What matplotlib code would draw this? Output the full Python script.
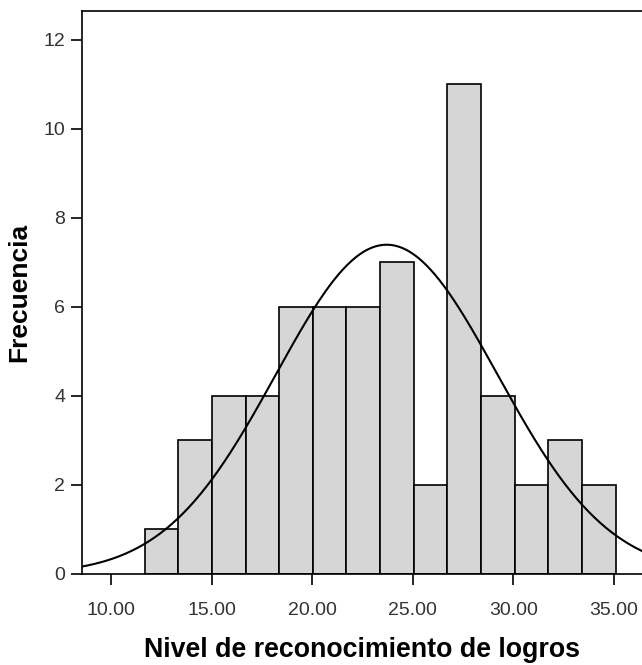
import numpy as np
import matplotlib
matplotlib.use("Agg")
import matplotlib.pyplot as plt

# histogram
bin_edges = np.linspace(11.67, 35.08, 15)
counts = [1, 3, 4, 4, 6, 6, 6, 7, 2, 11, 4, 2, 3, 2]
mean_est = 23.7
sd_est = 5.5
xticks = [10, 15, 20, 25, 30, 35]
yticks = [0, 2, 4, 6, 8, 10, 12]

plt.rcParams['font.family'] = ['Liberation Sans', 'DejaVu Sans']

fig = plt.figure(figsize=(6.42, 6.65), dpi=100)
# axes box: left edge at 82px, bottom axis at 574px, top at 11px, runs off the right side
ax = fig.add_axes([82 / 642, 1 - 574 / 665, 1 - 82 / 642, (574 - 11) / 665])

widths = np.diff(bin_edges)
ax.bar(bin_edges[:-1], counts, width=widths, align='edge',
       color='#d6d6d6', edgecolor='black', linewidth=1.2, zorder=2)

# normal curve scaled to counts
n = sum(counts)
xs = np.linspace(8.0, 37.0, 400)
ys = n * widths[0] / (sd_est * np.sqrt(2 * np.pi)) * np.exp(-0.5 * ((xs - mean_est) / sd_est) ** 2)
ax.plot(xs, ys, color='black', linewidth=1.5, zorder=3)

ax.set_xlim(8.56, 36.39)
ax.set_ylim(0, 12.65)
ax.set_xticks(xticks)
ax.set_xticklabels(["%.2f" % t for t in xticks])
ax.set_yticks(yticks)
ax.tick_params(axis='both', direction='out', length=8, width=1.2,
               labelsize=14, labelcolor='#333333')
ax.tick_params(axis='y', pad=4)
ax.tick_params(axis='x', pad=12)
for s in ax.spines.values():
    s.set_linewidth(1.2)
ax.spines['right'].set_visible(False)

ax.set_xlabel("Nivel de reconocimiento de logros", fontsize=19.3,
              fontweight='bold', labelpad=13)
ax.set_ylabel("Frecuencia", fontsize=19, fontweight='bold', labelpad=9)

fig.savefig("out.png", dpi=100)
